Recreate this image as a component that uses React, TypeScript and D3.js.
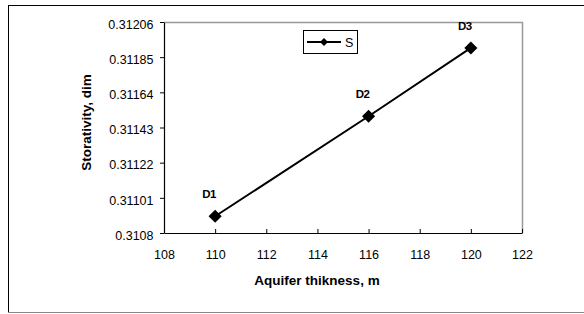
import React, { useEffect, useRef } from "react";
import * as d3 from "d3";

const thickness = [110, 116, 120];
const storativity = [0.3109, 0.311497, 0.311905];
const pointLabels = ["D1", "D2", "D3"];
const yTicks = [0.3108, 0.31101, 0.31122, 0.31143, 0.31164, 0.31185, 0.31206];
const xTicks = [108, 110, 112, 114, 116, 118, 120, 122];
const seriesName = "S";

const W = 584;
const H = 314;
const font = "Liberation Sans, Arial, sans-serif";

function App() {
    const ref = useRef<SVGSVGElement>(null);

    useEffect(() => {
        const svg = d3.select(ref.current);
        svg.selectAll("*").remove();

        const plot = { left: 164, top: 22, right: 522, bottom: 233 };

        const x = d3.scaleLinear().domain([108, 122]).range([plot.left, plot.right]);
        const y = d3.scaleLinear().domain([0.3108, 0.31206]).range([plot.bottom, plot.top]);

        // outer chart frame
        svg.append("rect")
            .attr("x", 8.5).attr("y", 5.5)
            .attr("width", 590).attr("height", 307)
            .attr("fill", "white")
            .attr("stroke", "#000").attr("stroke-width", 1);
        svg.append("line")
            .attr("x1", 8).attr("x2", W).attr("y1", 312.5).attr("y2", 312.5)
            .attr("stroke", "#888");

        // plot area frame (gray top/right)
        svg.append("path")
            .attr("d", `M${plot.left},${plot.top + 0.5}H${plot.right + 0.5}V${plot.bottom}`)
            .attr("fill", "none").attr("stroke", "#999").attr("stroke-width", 1.5);

        // y axis
        const yAxis = svg.append("g").attr("transform", `translate(${plot.left},0)`)
            .call(d3.axisLeft(y).tickValues(yTicks).tickSize(4).tickSizeOuter(0)
                .tickFormat((d) => String(+(+d).toFixed(5))));
        // x axis
        const xAxis = svg.append("g").attr("transform", `translate(0,${plot.bottom})`)
            .call(d3.axisBottom(x).tickValues(xTicks).tickSize(-4).tickSizeOuter(0)
                .tickFormat((d) => String(d)));

        [yAxis, xAxis].forEach((g) => {
            g.select(".domain").attr("stroke", "#000").attr("stroke-width", 1.2);
            g.selectAll("line").attr("stroke", "#000");
            g.selectAll("text").attr("font-family", font).attr("font-size", 12.5).attr("fill", "#000");
        });
        yAxis.selectAll("text").attr("x", -10.5).attr("dy", "0.5em");
        xAxis.selectAll("text").attr("y", 17);

        // axis titles
        svg.append("text")
            .attr("transform", `translate(91,${(plot.top + plot.bottom) / 2 - 5}) rotate(-90)`)
            .attr("text-anchor", "middle")
            .attr("font-family", font).attr("font-size", 13.5).attr("font-weight", "bold")
            .text("Storativity, dim");
        svg.append("text")
            .attr("x", 317).attr("y", 285)
            .attr("text-anchor", "middle")
            .attr("font-family", font).attr("font-size", 13.5).attr("font-weight", "bold")
            .text("Aquifer thikness, m");

        const data = thickness.map((t, i) => ({ t, s: storativity[i], label: pointLabels[i] }));

        const line = d3.line<{ t: number; s: number }>().x((d) => x(d.t)).y((d) => y(d.s));
        svg.append("path")
            .attr("d", line(data))
            .attr("fill", "none").attr("stroke", "#000").attr("stroke-width", 2);

        const diamond = d3.symbol().type(d3.symbolDiamond2).size(110);
        svg.selectAll(".pt").data(data).enter()
            .append("path")
            .attr("d", diamond)
            .attr("transform", (d) => `translate(${x(d.t)},${y(d.s)})`)
            .attr("fill", "#000");

        svg.selectAll(".lbl").data(data).enter()
            .append("text")
            .attr("x", (d) => x(d.t) - 6)
            .attr("y", (d) => y(d.s) - 18)
            .attr("text-anchor", "middle")
            .attr("font-family", font).attr("font-size", 11.5).attr("font-weight", "bold")
            .attr("letter-spacing", -0.5)
            .text((d) => d.label);

        // legend
        const lg = svg.append("g").attr("transform", "translate(303,30)");
        lg.append("rect")
            .attr("x", 0.5).attr("y", 0.5).attr("width", 54).attr("height", 23)
            .attr("fill", "white").attr("stroke", "#000").attr("stroke-width", 1);
        lg.append("line")
            .attr("x1", 4).attr("x2", 38).attr("y1", 12).attr("y2", 12)
            .attr("stroke", "#000").attr("stroke-width", 2);
        lg.append("path")
            .attr("d", d3.symbol().type(d3.symbolDiamond2).size(40))
            .attr("transform", "translate(21,12)")
            .attr("fill", "#000");
        lg.append("text")
            .attr("x", 42).attr("y", 16.5)
            .attr("font-family", font).attr("font-size", 12.5)
            .text(seriesName);
    }, []);

    return (
        <svg
            ref={ref}
            width={W}
            height={H}
            style={{ position: "fixed", left: 0, top: 0, background: "white" }}
        />
    );
}

export default App;
